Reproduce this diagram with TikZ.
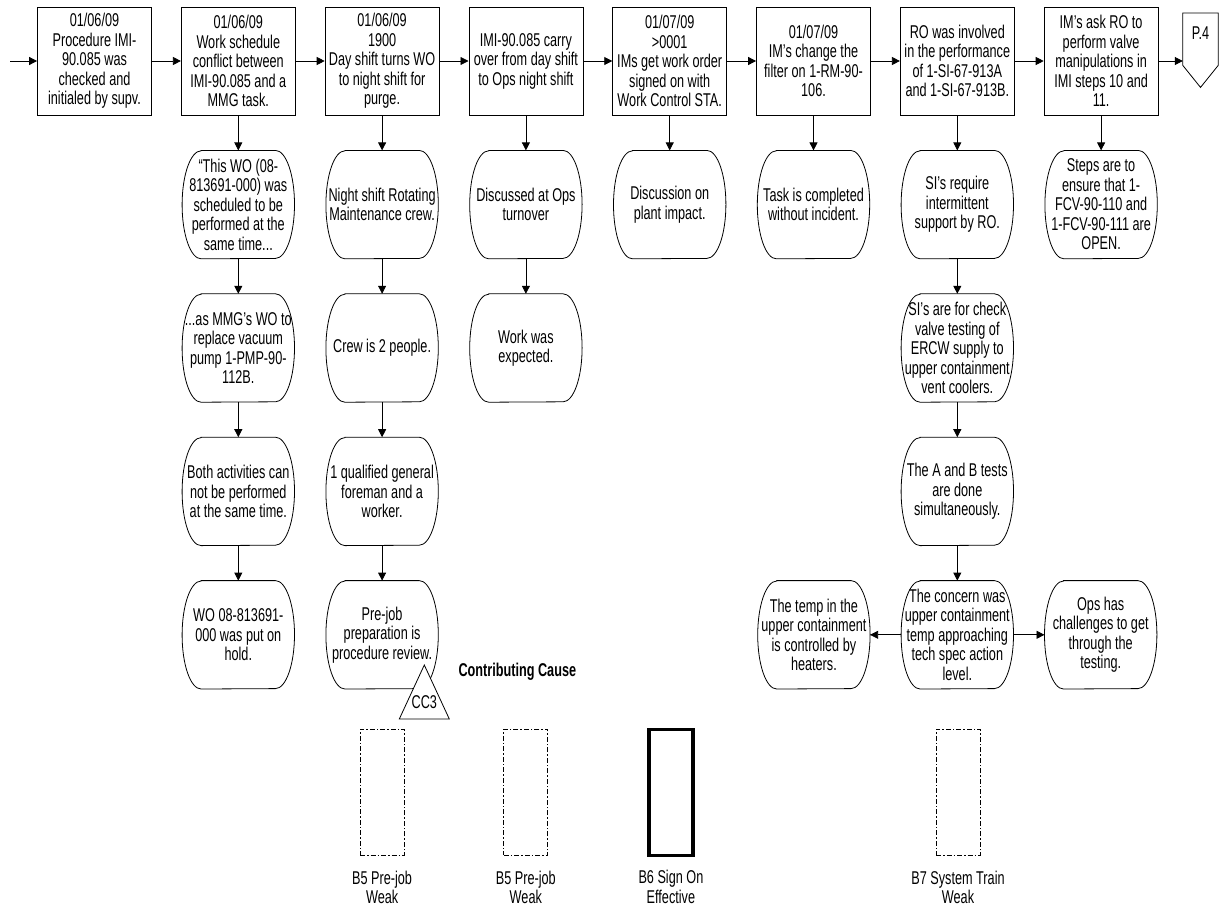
\documentclass[tikz,border=0pt]{standalone}
\usepackage{fontspec}
\setmainfont{Liberation Sans}[FakeStretch=0.685]
\usepackage{tikz}
\usetikzlibrary{shapes.geometric, arrows.meta, positioning}

\newcommand{\chartfont}{\fontsize{18.5pt}{19.5pt}\selectfont}

\begin{document}
\begin{tikzpicture}[
        font=\chartfont,
        node distance=35pt and 29pt,
        stepbox/.style={draw, rectangle, line width=0.8pt, minimum width=114pt, minimum height=108pt, align=center, inner sep=2pt},
        event/.style={rectangle, minimum width=112pt, minimum height=108pt, align=center, inner sep=0pt},
        barrier/.style={rectangle, minimum width=44pt, minimum height=126pt},
        weak/.style={barrier, draw, line width=0.7pt, dash pattern=on 5pt off 2pt on 1.5pt off 2pt},
        strong/.style={barrier, draw, line width=3.5pt},
        caption/.style={align=center, inner sep=0pt},
        arrow/.style={-{Triangle[length=8pt, width=8pt]}, line width=0.8pt}
    ]
        \useasboundingbox (0pt,0pt) rectangle (1225pt,-908pt);

        % time line
        \coordinate (entry) at (10pt,-61pt);
        \node (chk) [stepbox] at (94.5pt,-61pt) {01/06/09\\Procedure IMI-\\90.085 was\\checked and\\initialed by supv.};
        \node (sched) [stepbox, right=of chk] {01/06/09\\Work schedule\\conflict between\\IMI-90.085 and a\\MMG task.};
        \node (dayshift) [stepbox, right=of sched] {01/06/09\\1900\\Day shift turns WO\\to night shift for\\purge.};
        \node (carry) [stepbox, right=of dayshift] {IMI-90.085 carry\\over from day shift\\to Ops night shift};
        \node (signon) [stepbox, right=of carry] {01/07/09\\>0001\\IMs get work order\\signed on with\\Work Control STA.};
        \node (filter) [stepbox, right=of signon] {01/07/09\\IM’s change the\\filter on 1-RM-90-\\106.};
        \node (roperf) [stepbox, right=of filter] {RO was involved\\in the performance\\of 1-SI-67-913A\\and 1-SI-67-913B.};
        \node (valves) [stepbox, right=of roperf] {IM’s ask RO to\\perform valve\\manipulations in\\IMI steps 10 and\\11.};
        \node (p4) [minimum width=35pt, minimum height=40pt, inner sep=0pt, anchor=north] at (1200.5pt,-13pt) {P.4};
        \draw [line width=0.8pt] (p4.north west) -- (p4.north east) -- ([yshift=-12pt]p4.south east) -- ([yshift=-34pt]p4.south) -- ([yshift=-12pt]p4.south west) -- cycle;

        % conditions
        \node (wo_time) [event, below=of sched] {“This WO (08-\\813691-000) was\\scheduled to be\\performed at the\\same time...};
        \node (wo_mmg) [event, below=of wo_time] {...as MMG’s WO to\\replace vacuum\\pump 1-PMP-90-\\112B.};
        \node (both) [event, below=of wo_mmg] {Both activities can\\not be performed\\at the same time.};
        \node (hold) [event, below=of both] {WO 08-813691-\\000 was put on\\hold.};

        \node (crew_ns) [event, below=of dayshift] {Night shift Rotating\\Maintenance crew.};
        \node (crew_two) [event, below=of crew_ns] {Crew is 2 people.};
        \node (foreman) [event, below=of crew_two] {1 qualified general\\foreman and a\\worker.};
        \node (prejob) [event, below=of foreman] {Pre-job\\preparation is\\procedure review.};

        \node (ops_disc) [event, below=of carry] {Discussed at Ops\\turnover};
        \node (expected) [event, below=of ops_disc] {Work was\\expected.};

        \node (plant) [event, below=of signon] {Discussion on\\plant impact.};

        \node (done) [event, below=of filter] {Task is completed\\without incident.};

        \node (si_support) [event, below=of roperf] {SI’s require\\intermittent\\support by RO.};
        \node (si_check) [event, below=of si_support] {SI’s are for check\\valve testing of\\ERCW supply to\\upper containment\\vent coolers.};
        \node (ab_tests) [event, below=of si_check] {The A and B tests\\are done\\simultaneously.};
        \node (concern) [event, below=of ab_tests] {The concern was\\upper containment\\temp approaching\\tech spec action\\level.};
        \node (heaters) [event, left=31pt of concern] {The temp in the\\upper containment\\is controlled by\\heaters.};
        \node (challenges) [event, right=31pt of concern] {Ops has\\challenges to get\\through the\\testing.};

        \node (steps) [event, below=of valves] {Steps are to\\ensure that 1-\\FCV-90-110 and\\1-FCV-90-111 are\\OPEN.};

        \foreach \n in {wo_time,wo_mmg,both,hold,crew_ns,crew_two,foreman,prejob,ops_disc,expected,plant,done,si_support,si_check,ab_tests,concern,heaters,challenges,steps}
            \draw [line width=0.8pt] ([xshift=19pt]\n.north west) -- ([xshift=-19pt]\n.north east)
                arc[start angle=90, end angle=-90, x radius=19pt, y radius=54pt]
                -- ([xshift=19pt]\n.south west)
                arc[start angle=270, end angle=90, x radius=19pt, y radius=54pt] -- cycle;

        % contributing cause
        \draw [line width=0.8pt, fill=white] ([shift={(-14pt,24pt)}]prejob.south east) -- ([shift={(11pt,-30pt)}]prejob.south east) -- ([shift={(-39pt,-30pt)}]prejob.south east) -- cycle;
        \node (cc3) [inner sep=0pt] at ([shift={(-14pt,-13pt)}]prejob.south east) {CC3};
        \node (ccnote) [font=\chartfont\bfseries, anchor=west] at (455pt,-672pt) {Contributing Cause};

        % barriers
        \node (b5_prejob) [weak, below=40pt of prejob] {};
        \node (b5_prejob2) [weak, right=99pt of b5_prejob] {};
        \node (b6_signon) [strong, right=99pt of b5_prejob2] {};
        \node (b7_train) [weak, right=241pt of b6_signon] {};
        \node [caption, below=15pt of b5_prejob] {B5 Pre-job\\Weak};
        \node [caption, below=15pt of b5_prejob2] {B5 Pre-job\\Weak};
        \node [caption, below=13pt of b6_signon] {B6 Sign On\\Effective};
        \node [caption, below=15pt of b7_train] {B7 System Train\\Weak};

        \draw [arrow] (entry) -- (chk);
        \draw [arrow] (chk) -- (sched);
        \draw [arrow] (sched) -- (dayshift);
        \draw [arrow] (dayshift) -- (carry);
        \draw [arrow] (carry) -- (signon);
        \draw [arrow] (signon) -- (filter);
        \draw [arrow] (filter) -- (roperf);
        \draw [arrow] (roperf) -- (valves);
        \draw [arrow] (valves) -- (valves -| p4.west);

        \draw [arrow] (sched) -- (wo_time);
        \draw [arrow] (wo_time) -- (wo_mmg);
        \draw [arrow] (wo_mmg) -- (both);
        \draw [arrow] (both) -- (hold);
        \draw [arrow] (dayshift) -- (crew_ns);
        \draw [arrow] (crew_ns) -- (crew_two);
        \draw [arrow] (crew_two) -- (foreman);
        \draw [arrow] (foreman) -- (prejob);
        \draw [arrow] (carry) -- (ops_disc);
        \draw [arrow] (ops_disc) -- (expected);
        \draw [arrow] (signon) -- (plant);
        \draw [arrow] (filter) -- (done);
        \draw [arrow] (roperf) -- (si_support);
        \draw [arrow] (si_support) -- (si_check);
        \draw [arrow] (si_check) -- (ab_tests);
        \draw [arrow] (ab_tests) -- (concern);
        \draw [arrow] (concern) -- (heaters);
        \draw [arrow] (concern) -- (challenges);
        \draw [arrow] (valves) -- (steps);
    \end{tikzpicture}
\end{document}
